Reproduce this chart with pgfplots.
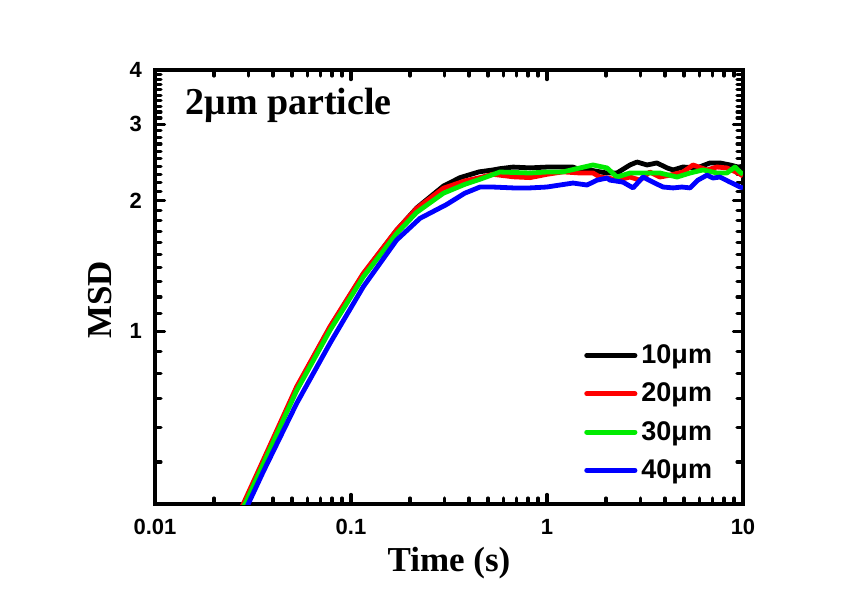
\documentclass[border=0pt]{standalone}
\usepackage{fontspec}
\setmainfont{Liberation Sans}
\newfontfamily\serifbf{Liberation Serif}
\usepackage{pgfplots}
\pgfplotsset{compat=1.18}

\pgfplotstableread{
x y
0.0275 0.39
0.0285 0.40
0.0357 0.50
0.0528 0.74
0.0781 1.02
0.1156 1.355
0.171 1.71
0.2164 1.925
0.2958 2.16
0.36 2.26
0.45 2.33
0.53 2.354
0.575 2.37
0.671 2.39
0.82 2.38
0.997 2.39
1.207 2.39
1.36 2.39
1.473 2.354
1.60 2.36
1.864 2.33
2.024 2.316
2.276 2.316
2.65 2.417
2.88 2.455
3.24 2.417
3.64 2.443
4.10 2.379
4.40 2.354
4.94 2.391
5.82 2.379
6.79 2.443
7.63 2.443
8.59 2.417
9.43 2.391
10 2.40
}\tblack

\pgfplotstableread{
x y
0.0270 0.385
0.0282 0.40
0.0357 0.505
0.0528 0.745
0.0781 1.025
0.1156 1.36
0.171 1.712
0.2164 1.92
0.2958 2.136
0.38 2.22
0.455 2.26
0.53 2.30
0.671 2.27
0.82 2.26
0.997 2.30
1.207 2.33
1.473 2.316
1.717 2.316
1.864 2.267
2.096 2.25
2.276 2.23
2.65 2.267
2.98 2.23
3.35 2.328
3.77 2.267
4.24 2.29
4.94 2.328
5.56 2.417
6.55 2.354
7.37 2.391
8.28 2.379
9.43 2.316
10 2.28
}\tred

\pgfplotstableread{
x y
0.0278 0.39
0.0288 0.40
0.0357 0.495
0.0528 0.73
0.0781 1.005
0.1156 1.335
0.171 1.68
0.2164 1.88
0.2958 2.08
0.38 2.18
0.455 2.24
0.575 2.328
0.82 2.316
0.997 2.328
1.207 2.33
1.473 2.379
1.717 2.417
2.024 2.379
2.276 2.267
2.65 2.316
3.09 2.316
3.77 2.316
4.61 2.267
5.37 2.316
6.25 2.354
7.37 2.316
8.28 2.316
9.10 2.391
9.66 2.328
10 2.30
}\tgreen

\pgfplotstableread{
x y
0.0292 0.39
0.0299 0.40
0.0357 0.475
0.0528 0.682
0.0781 0.938
0.1156 1.267
0.171 1.623
0.2249 1.821
0.3076 1.96
0.38 2.08
0.455 2.15
0.53 2.15
0.671 2.14
0.82 2.14
0.997 2.15
1.357 2.196
1.60 2.173
1.80 2.23
2.024 2.255
2.096 2.23
2.44 2.207
2.75 2.14
3.09 2.267
3.47 2.207
3.91 2.15
4.40 2.14
4.88 2.15
5.37 2.14
5.89 2.23
6.55 2.29
7.03 2.255
7.63 2.267
8.59 2.207
9.66 2.15
10 2.14
}\tblue

\definecolor{cgreen}{RGB}{0,235,0}

\begin{document}
\begin{tikzpicture}
\path[use as bounding box] (-77.5pt,-51.5pt) rectangle (354.5pt,252pt);
\begin{axis}[
  at={(0pt,0pt)}, anchor=south west,
  scale only axis, width=294pt, height=217pt,
  xmode=log, ymode=log,
  xmin=0.01, xmax=10, ymin=0.4, ymax=4,
  xtick={0.01,0.1,1,10}, xticklabels={0.01,0.1,1,10},
  minor xtick={0.02,0.03,0.04,0.05,0.06,0.07,0.08,0.09,0.2,0.3,0.4,0.5,0.6,0.7,0.8,0.9,2,3,4,5,6,7,8,9},
  ytick={1,2,3,4}, yticklabels={1,2,3,4},
  minor ytick={0.5,0.6,0.7,0.8,0.9,1.1,1.2,1.3,1.4,1.5,1.6,1.7,1.8,1.9,2.1,2.2,2.3,2.4,2.5,2.6,2.7,2.8,2.9,3.1,3.2,3.3,3.4,3.5,3.6,3.7,3.8,3.9},
  tick align=inside,
  axis line style={line width=2.3pt},
  every tick/.style={line width=1.6pt, black, line cap=round},
  major tick length=4.8pt, minor tick length=3pt,
  /pgf/number format/assume math mode=true,
  tick label style={font=\fontsize{11}{13}\selectfont\bfseries},
  xticklabel style={yshift=-4pt},
  yticklabel style={xshift=-3pt},
  xlabel={Time (s)},
  xlabel style={font=\serifbf\fontsize{17.5}{20}\selectfont\bfseries, at={(axis description cs:0.5,-0.136)}, anchor=center},
  ylabel={MSD},
  ylabel style={font=\serifbf\fontsize{17.5}{20}\selectfont\bfseries, at={(axis description cs:-0.0935,0.47)}, anchor=center},
  legend style={at={(rel axis cs:0.965,0.033)}, anchor=south east, draw=none, fill=none,
    font=\fontsize{13.5}{15}\selectfont\bfseries, row sep=4.2pt},
  legend cell align=left,
  legend image code/.code={\draw[#1, line width=2.6pt, line cap=round] (0pt,0pt) -- (24pt,0pt);},
  every axis plot/.append style={line width=2.4pt, line join=round},
]
\addplot[black] table[x=x,y=y] {\tblack};
\addlegendentry{10μm}
\addplot[red] table[x=x,y=y] {\tred};
\addlegendentry{20μm}
\addplot[cgreen] table[x=x,y=y] {\tgreen};
\addlegendentry{30μm}
\addplot[blue] table[x=x,y=y] {\tblue};
\addlegendentry{40μm}
\node[anchor=west, font=\serifbf\fontsize{19}{22}\selectfont\bfseries] at (rel axis cs:0.04,0.919) {2μm particle};
\end{axis}
\end{tikzpicture}
\end{document}
